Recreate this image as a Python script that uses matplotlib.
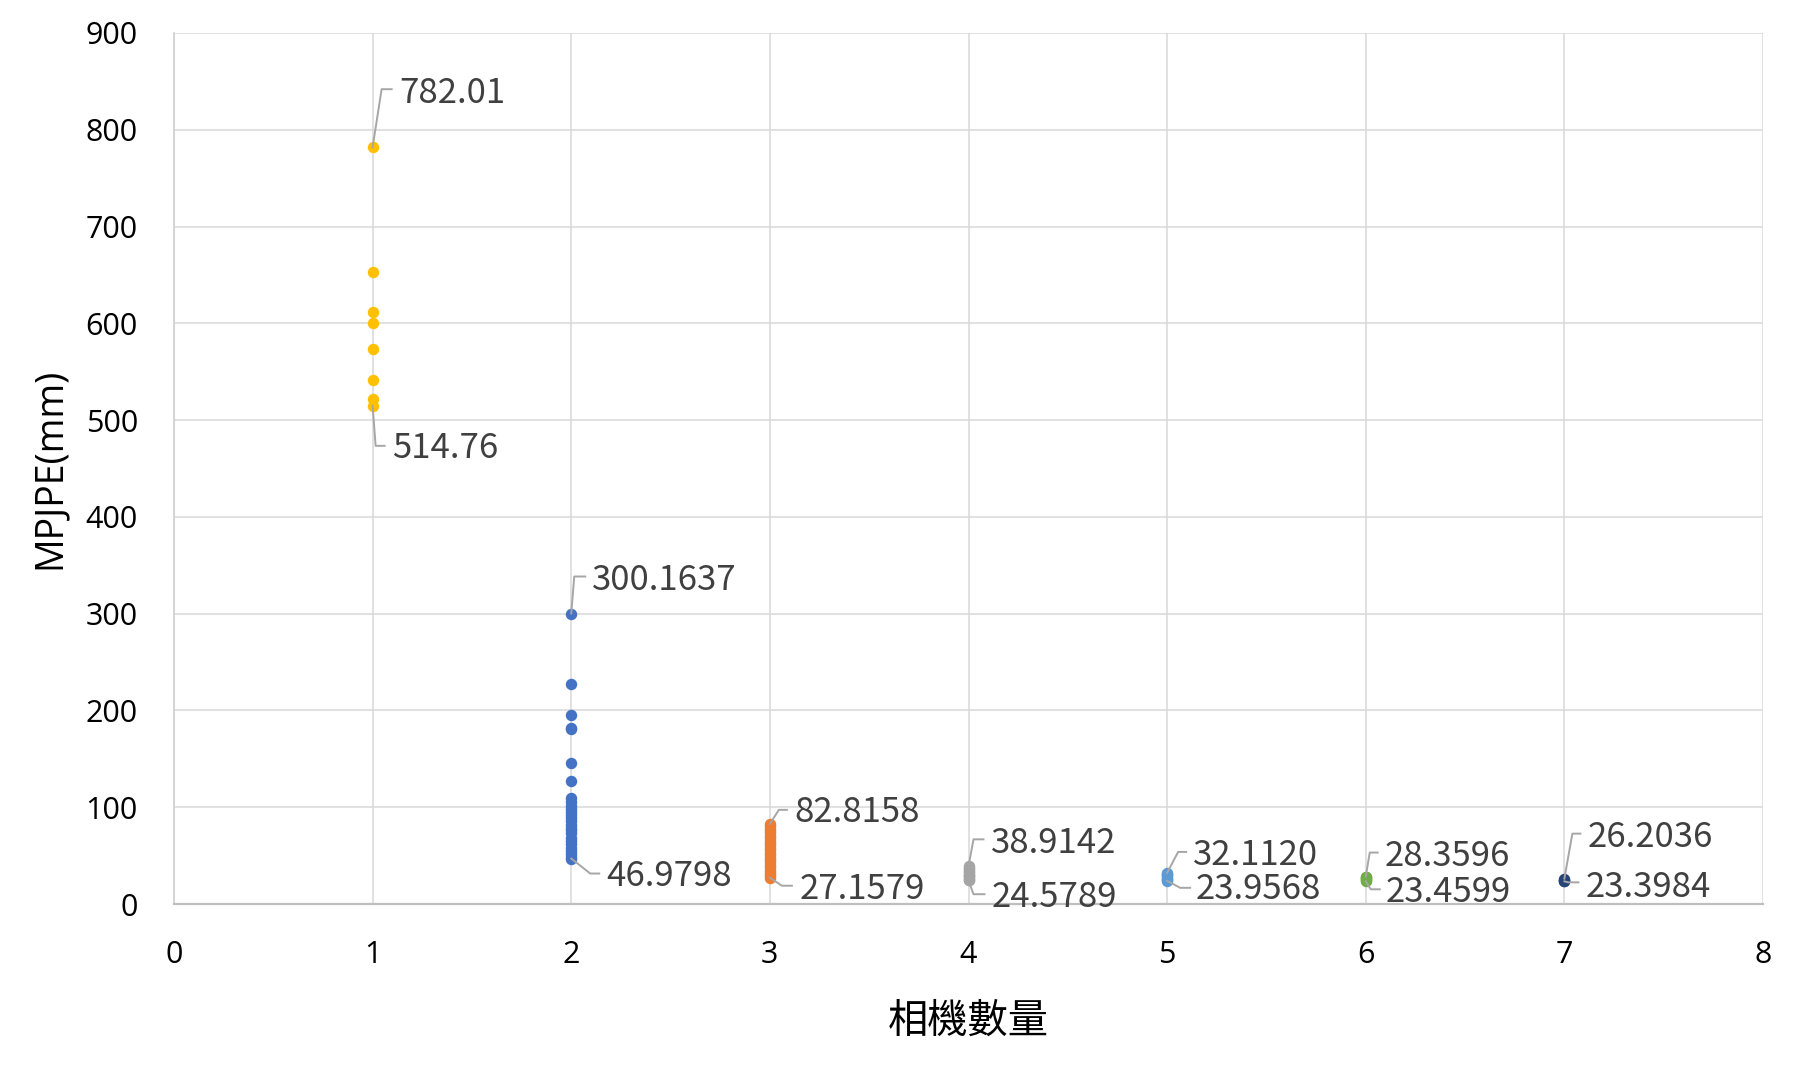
import matplotlib
matplotlib.use("Agg")
import matplotlib.pyplot as plt

# MPJPE per camera count
cam1 = [782.01, 653.5, 611.5, 600.0, 573.9, 541.4, 521.4, 514.76]
cam2 = [300.1637, 227.3, 195.0, 182.0, 180.5, 145.8, 127.0, 109.6, 105.0, 101.0,
        98.0, 95.0, 92.0, 89.0, 86.0, 82.0, 79.0, 76.0, 73.0, 68.5, 65.0, 62.0,
        58.0, 55.0, 52.0, 49.0, 46.9798]
cam3 = [82.8158, 80.5, 78.0, 75.5, 73.0, 70.5, 68.0, 65.5, 63.0, 60.5, 58.0, 55.5,
        53.0, 50.5, 48.0, 45.5, 43.0, 40.5, 38.0, 35.5, 33.0, 30.5, 28.5, 27.1579]
cam4 = [38.9142, 37.5, 36.0, 34.5, 33.0, 31.5, 30.0, 28.8, 27.5, 26.2, 25.3, 24.5789]
cam5 = [32.1120, 31.0, 29.8, 28.5, 27.2, 26.0, 25.0, 23.9568]
cam6 = [28.3596, 27.5, 26.5, 25.5, 24.5, 23.4599]
cam7 = [26.2036, 25.1, 24.2, 23.3984]

series = [cam1, cam2, cam3, cam4, cam5, cam6, cam7]
max_labels = ["782.01", "300.1637", "82.8158", "38.9142", "32.1120", "28.3596", "26.2036"]
min_labels = ["514.76", "46.9798", "27.1579", "24.5789", "23.9568", "23.4599", "23.3984"]
colors = ["#FFC000", "#4472C4", "#ED7D31", "#A5A5A5", "#5B9BD5", "#70AD47", "#264478"]

# leader line geometry in pixels (kink dx, kink dy, end dx, text dx, text dy), dy points down
max_geom = [(9, -58, 19, 27, -54), (3, -37, 14, 21, -33), (9, -14, 17, 25, -11),
            (5, -27, 15, 22, -23), (11, -21, 19, 26, -17), (4, -24, 12, 19, -20),
            (8, -45, 16, 23, -41)]
min_geom = [(3, 40, 12, 19, 43), (19, 15, 28, 35, 18), (12, 8, 22, 30, 12),
            (5, 14, 16, 23, 17), (13, 7, 23, 29, 9), (5, 8, 14, 20, 11),
            (4, 1, 14, 21, 6)]

W, H = 1797, 1079
fig = plt.figure(figsize=(W / 100, H / 100), dpi=100)
ax = fig.add_axes([174 / W, 1 - 904 / H, (1763 - 174) / W, (904 - 33) / H])

for i, vals in enumerate(series):
    ax.scatter([i + 1] * len(vals), vals, s=68, color=colors[i], zorder=3, linewidths=0)

ax.set_xlim(0, 8)
ax.set_ylim(0, 900)
ax.set_xticks(range(0, 9))
ax.set_yticks(range(0, 901, 100))
ax.grid(True, color="#D9D9D9", linewidth=1.1, zorder=0)
ax.set_axisbelow(True)
for side in ["top", "right"]:
    ax.spines[side].set_visible(False)
ax.spines["left"].set_color("#D0D0D0")
ax.spines["left"].set_linewidth(1.2)
ax.spines["bottom"].set_color("#BFBFBF")
ax.spines["bottom"].set_linewidth(1.6)
ax.tick_params(length=0, pad=26, labelsize=22, labelcolor="black")
for lab in ax.get_xticklabels() + ax.get_yticklabels():
    lab.set_family("Open Sans")

ax.set_ylabel("MPJPE(mm)", fontsize=27, family="Open Sans", labelpad=12)
ax.set_xlabel("相機數量", fontsize=29, family=["Noto Sans CJK TC", "DejaVu Sans"], labelpad=22)


def put_label(x, y, text, geom):
    px, py = ax.transData.transform((x, y))
    kx, ky, ex, tx, ty = geom
    fig.add_artist(plt.Line2D([px, px + kx, px + ex], [py, py - ky, py - ky],
                              transform=None, color="#A6A6A6", linewidth=1.4, zorder=4))
    fig.text(px + tx, py - ty, text, transform=None, ha="left", va="center",
             fontsize=25, color="#404040", family=["Noto Sans CJK TC", "DejaVu Sans"])


for i, vals in enumerate(series):
    put_label(i + 1, max(vals), max_labels[i], max_geom[i])
    put_label(i + 1, min(vals), min_labels[i], min_geom[i])

fig.savefig("out.png", dpi=100)
